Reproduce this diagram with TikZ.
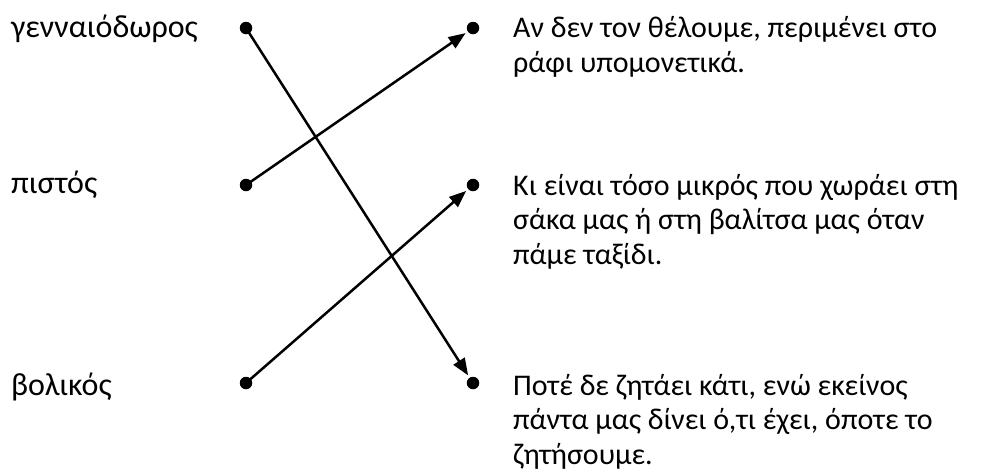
\documentclass[tikz,border=0pt]{standalone}
\usepackage{fontspec}
\setmainfont{Carlito}
\usetikzlibrary{arrows.meta}
\begin{document}
\begin{tikzpicture}[x=1pt,y=-1pt,
  word/.style={anchor=base west,inner sep=0pt,font=\fontsize{32}{35}\selectfont},
  para/.style={anchor=base west,inner sep=0pt,align=left,font=\fontsize{30}{34.5}\selectfont},
  dot/.style={circle,fill=black,inner sep=0pt,minimum size=12.5pt},
  link/.style={line width=2.5pt,-{Triangle[length=17pt,width=13pt]},shorten >=9pt}]
\useasboundingbox (0,0) rectangle (994,475);
\node[word] (w1) at (11,37) {γενναιόδωρος};
\node[word] (w2) at (11,193) {πιστός};
\node[word] (w3) at (11,395) {βολικός};
\node[dot] (l1) at (246,28) {};
\node[dot] (l2) at (246,185) {};
\node[dot] (l3) at (246,383) {};
\node[dot] (r1) at (473,28) {};
\node[dot] (r2) at (473,185) {};
\node[dot] (r3) at (473,383) {};
\node[para] (t1) at (513,72) {Αν δεν τον θέλουμε, περιμένει στο\\ράφι υπομονετικά.};
\node[para] (t2) at (513,264) {Κι είναι τόσο μικρός που χωράει στη\\σάκα μας ή στη βαλίτσα μας όταν\\πάμε ταξίδι.};
\node[para] (t3) at (513,464) {Ποτέ δε ζητάει κάτι, ενώ εκείνος\\πάντα μας δίνει ό,τι έχει, όποτε το\\ζητήσουμε.};
\draw[link] (l1.center) -- (r3.center);
\draw[link] (l2.center) -- (r1.center);
\draw[link] (l3.center) -- (r2.center);
\end{tikzpicture}
\end{document}
